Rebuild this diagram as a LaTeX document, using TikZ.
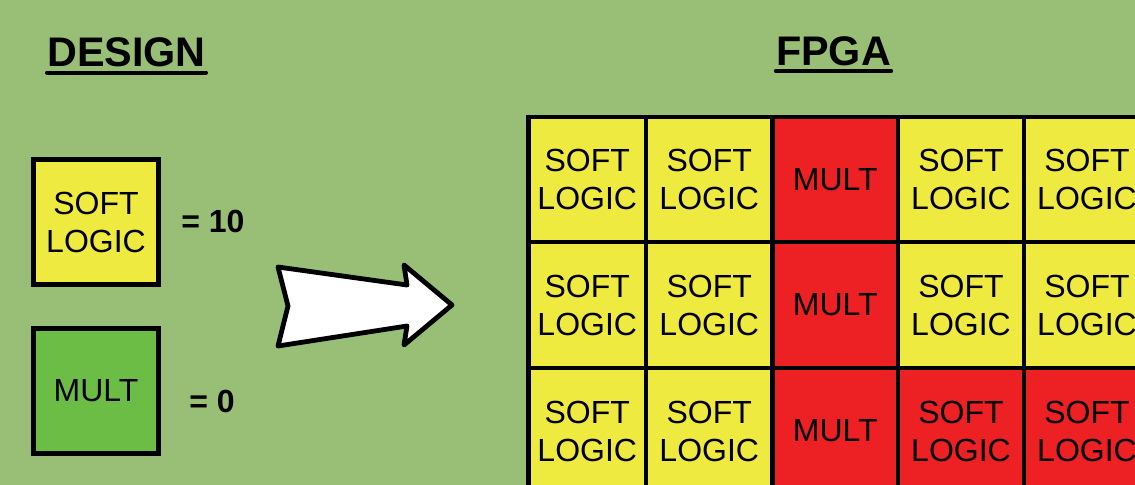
\documentclass[tikz,border=0pt]{standalone}
\usepackage{fontspec}
\setmainfont{Liberation Sans}
\definecolor{bggreen}{RGB}{153,191,118}
\definecolor{softyellow}{RGB}{238,234,64}
\definecolor{multred}{RGB}{237,33,36}
\definecolor{multgreen}{RGB}{108,189,69}
\tikzset{
  outline/.style={draw=black, line width=3.4pt},
  cell/.style={outline, inner sep=0pt, outer sep=0pt, align=center,
    font=\fontsize{24}{28.5}\selectfont, text=black},
  cw/.style={minimum width=#1*0.75pt},
  ch/.style={minimum height=#1*0.75pt},
  title/.style={font=\bfseries\fontsize{31}{34}\selectfont, inner sep=0pt, anchor=base},
  count/.style={font=\bfseries\fontsize{24}{28}\selectfont, inner sep=0pt, anchor=base west},
  rule/.style={line width=3pt, line cap=round},
  bigarrow/.style={fill=white, draw=black, line width=3.6pt, line join=round}
}
\begin{document}
\begin{tikzpicture}[x=0.75pt, y=-0.75pt]
  % canvas and background
  \useasboundingbox (0,0) rectangle (1135,485);
  \clip (0,0) rectangle (1135,485);
  \fill[bggreen] (0,0) rectangle (1135,485);

  % headings
  \node[title] (design) at (126.5,67) {DESIGN};
  \draw[rule] ([yshift=-4.2pt]design.base west) -- ([yshift=-4.2pt]design.base east);
  \node[title] (fpga) at (833.5,65) {FPGA};
  \draw[rule] ([yshift=-4.5pt]fpga.base west) -- ([yshift=-4.5pt]fpga.base east);

  % design resources
  \node[cell, fill=softyellow, cw=125, ch=125] (dsoft) at (96,222) {SOFT\\LOGIC};
  \node[cell, fill=multgreen, cw=125, ch=125] (dmult) at (96,391) {MULT};
  \node[count] (nsoft) at (181,232) {= 10};
  \node[count] (nmult) at (189,412) {= 0};

  % mapping arrow
  \draw[bigarrow] (278,267) coordinate (atl) -- (407,285) -- (404,265)
    -- (452,305) coordinate (atip) -- (404,345) -- (407,326)
    -- (278,346) -- (288,306) -- cycle;

  % FPGA fabric, row 1
  \node[cell, fill=softyellow, cw=117.5, ch=125] (r1c1) at (587.25,179.5) {SOFT\\LOGIC};
  \node[cell, fill=softyellow, cw=126.5, ch=125] (r1c2) at (709.25,179.5) {SOFT\\LOGIC};
  \node[cell, fill=multred,    cw=125.5, ch=125] (r1c3) at (835.25,179.5) {MULT};
  \node[cell, fill=softyellow, cw=126,   ch=125] (r1c4) at (961,179.5) {SOFT\\LOGIC};
  \node[cell, fill=softyellow, cw=126,   ch=125] (r1c5) at (1087,179.5) {SOFT\\LOGIC};
  % row 2
  \node[cell, fill=softyellow, cw=117.5, ch=126] (r2c1) at (587.25,305) {SOFT\\LOGIC};
  \node[cell, fill=softyellow, cw=126.5, ch=126] (r2c2) at (709.25,305) {SOFT\\LOGIC};
  \node[cell, fill=multred,    cw=125.5, ch=126] (r2c3) at (835.25,305) {MULT};
  \node[cell, fill=softyellow, cw=126,   ch=126] (r2c4) at (961,305) {SOFT\\LOGIC};
  \node[cell, fill=softyellow, cw=126,   ch=126] (r2c5) at (1087,305) {SOFT\\LOGIC};
  % row 3
  \node[cell, fill=softyellow, cw=117.5, ch=126] (r3c1) at (587.25,431) {SOFT\\LOGIC};
  \node[cell, fill=softyellow, cw=126.5, ch=126] (r3c2) at (709.25,431) {SOFT\\LOGIC};
  \node[cell, fill=multred,    cw=125.5, ch=126] (r3c3) at (835.25,431) {MULT};
  \node[cell, fill=multred,    cw=126,   ch=126] (r3c4) at (961,431) {SOFT\\LOGIC};
  \node[cell, fill=multred,    cw=126,   ch=126] (r3c5) at (1087,431) {SOFT\\LOGIC};
\end{tikzpicture}
\end{document}
